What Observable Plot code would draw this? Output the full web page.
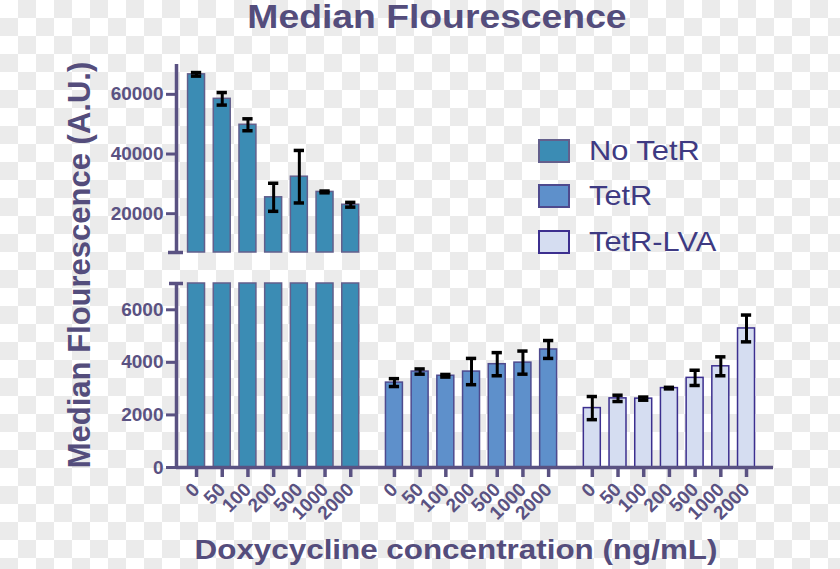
<!DOCTYPE html>
<html>
<head>
<meta charset="utf-8">
<script src="https://cdn.jsdelivr.net/npm/d3@7"></script>
<script src="https://cdn.jsdelivr.net/npm/@observablehq/plot@0.6"></script>
<style>
  html, body { margin: 0; padding: 0; }
  #chart {
    position: relative; width: 840px; height: 569px; overflow: hidden;
    background: repeating-conic-gradient(#ebebeb 0 25%, #ffffff 0 50%) 0 0 / 36px 36px;
    font-family: "Liberation Sans", Arial, sans-serif;
  }
  #chart svg { position: absolute; left: 0; top: 0; }
  .title { position: absolute; left: 0; width: 874px; text-align: center; font-weight: bold; color: #544d7c; white-space: nowrap; }
  .legend-swatch { position: absolute; width: 32px; height: 24px; box-sizing: border-box; border: 2px solid; }
  .legend-text { position: absolute; font-size: 28px; line-height: 30px; color: #3e3a82; white-space: nowrap; transform: scaleX(1.1); transform-origin: 0 50%; }
</style>
</head>
<body>
<div id="chart"></div>
<script>
// ---- data ----
const groups = ["No TetR", "TetR", "TetR-LVA"];
const concentrations = ["0", "50", "100", "200", "500", "1000", "2000"];
const noTetR     = [66700, 58500, 49800, 25500, 32400, 27300, 23000];
const noTetRErr  = [600, 2100, 2000, 4700, 8800, 300, 800];
const tetR       = [3230, 3650, 3490, 3650, 3930, 3990, 4490];
const tetRErr    = [150, 100, 50, 500, 440, 440, 340];
const tetRLVA    = [2260, 2630, 2620, 3020, 3410, 3850, 5290];
const tetRLVAErr = [440, 120, 60, 30, 290, 360, 510];
const yTicksUpper = [20000, 40000, 60000];
const yTicksLower = [0, 2000, 4000, 6000];
const yBreak = 7000;
const yTop = 70000;

// ---- styles / layout ----
const FILLS = ["#3b8cb4", "#5e90cb", "#d5ddf1"];
const STROKES = ["#635f8c", "#4e4a8e", "#3c2f8f"];
const AXIS = "#5a5282";
const GROUP_STEP = 7.7;   // slot distance between group starts
const HALF_BAR = 0.33;
const HALF_CAP = 0.2;

const values = [noTetR, tetR, tetRLVA];
const errs = [noTetRErr, tetRErr, tetRLVAErr];
const rows = groups.flatMap((g, gi) => concentrations.map((c, i) => ({
  group: g, gi, conc: c, value: values[gi][i], err: errs[gi][i], pos: gi * GROUP_STEP + i
})));
const lastPos = d3.max(rows, d => d.pos);
const xMin = -0.78, xMax = lastPos + 1.05;
const labelByPos = new Map(rows.map(d => [d.pos, d.conc]));

const common = {
  width: 840, height: 569, marginLeft: 176, marginRight: 67,
  x: {type: "linear", domain: [xMin, xMax], axis: null},
  style: {background: "none", overflow: "visible", fontFamily: "'Liberation Sans', Arial, sans-serif",
          fontWeight: "bold", fontSize: "19px", color: AXIS}
};

function barMarks(data, y1) {
  return groups.map((g, gi) => Plot.rectY(data.filter(d => d.gi === gi), {
    x1: d => d.pos - HALF_BAR, x2: d => d.pos + HALF_BAR, y1: y1, y2: "value",
    fill: FILLS[gi], stroke: STROKES[gi], strokeWidth: 1.5
  }));
}
function errMarks(data) {
  const caps = data.flatMap(d => [{pos: d.pos, y: d.value - d.err}, {pos: d.pos, y: d.value + d.err}]);
  return [
    Plot.ruleX(data, {x: "pos", y1: d => d.value - d.err, y2: d => d.value + d.err, stroke: "black", strokeWidth: 3}),
    Plot.ruleY(caps, {y: "y", x1: d => d.pos - HALF_CAP, x2: d => d.pos + HALF_CAP, stroke: "black", strokeWidth: 3.5})
  ];
}

const upper = Plot.plot({
  ...common,
  marginTop: 64, marginBottom: 569 - 252,
  y: {domain: [yBreak, yTop], axis: null},
  marks: [
    ...barMarks(rows.filter(d => d.value > yBreak), yBreak),
    ...errMarks(rows.filter(d => d.value > yBreak)),
    Plot.ruleX([xMin], {y1: yBreak, y2: yTop, stroke: AXIS, strokeWidth: 3.5}),
    Plot.ruleY([yBreak], {x1: xMin, x2: xMin, insetLeft: -8, insetRight: -7, stroke: AXIS, strokeWidth: 3.5}),
    Plot.axisY({ticks: yTicksUpper, tickSize: 10, tickPadding: 3, stroke: AXIS, strokeWidth: 3, fill: AXIS, label: null, tickFormat: d => String(d)})
  ]
});

const lower = Plot.plot({
  ...common,
  marginTop: 283, marginBottom: 569 - 467,
  y: {domain: [0, yBreak], clamp: true, axis: null},
  marks: [
    ...barMarks(rows, 0),
    ...errMarks(rows.filter(d => d.value < yBreak)),
    Plot.ruleX([xMin], {y1: 0, y2: yBreak, stroke: AXIS, strokeWidth: 3.5}),
    Plot.ruleY([yBreak], {x1: xMin, x2: xMin, insetLeft: -7, insetRight: -7, stroke: AXIS, strokeWidth: 3.5}),
    Plot.ruleY([0], {stroke: AXIS, strokeWidth: 3.5}),
    Plot.axisY({ticks: yTicksLower, tickSize: 10, tickPadding: 3, stroke: AXIS, strokeWidth: 3, fill: AXIS, label: null, tickFormat: d => String(d)}),
    Plot.axisX({ticks: rows.map(d => d.pos), tickFormat: d => labelByPos.get(d), tickRotate: -45, label: null,
                tickSize: 10, tickPadding: 9, stroke: AXIS, strokeWidth: 3.5, fill: AXIS, fontSize: 19})
  ]
});

const chart = document.getElementById("chart");
chart.appendChild(lower);
chart.appendChild(upper);

function addDiv(cls, text, css) {
  const el = document.createElement("div");
  el.className = cls;
  el.textContent = text;
  Object.assign(el.style, css);
  chart.appendChild(el);
  return el;
}
addDiv("title", "Median Flourescence", {top: "3px", fontSize: "33px", lineHeight: "27px", transform: "scaleX(1.13)", transformOrigin: "437px 50%"});
addDiv("title", "Doxycycline concentration (ng/mL)", {top: "535px", fontSize: "28px", lineHeight: "30px", width: "912px", transform: "scaleX(1.12)", transformOrigin: "456px 50%"});
addDiv("title", "Median Flourescence (A.U.)", {
  top: "250px", left: "-170px", width: "500px", height: "30px", lineHeight: "30px",
  fontSize: "31px", transform: "rotate(-90deg)", transformOrigin: "250px 15px"
});

const legendTops = [139, 184, 230];
groups.forEach((g, gi) => {
  const sw = document.createElement("div");
  sw.className = "legend-swatch";
  Object.assign(sw.style, {left: "538px", top: legendTops[gi] + "px", background: FILLS[gi], borderColor: STROKES[gi]});
  chart.appendChild(sw);
  addDiv("legend-text", g, {left: "589px", top: (legendTops[gi] - 3) + "px"});
});
</script>
</body>
</html>
